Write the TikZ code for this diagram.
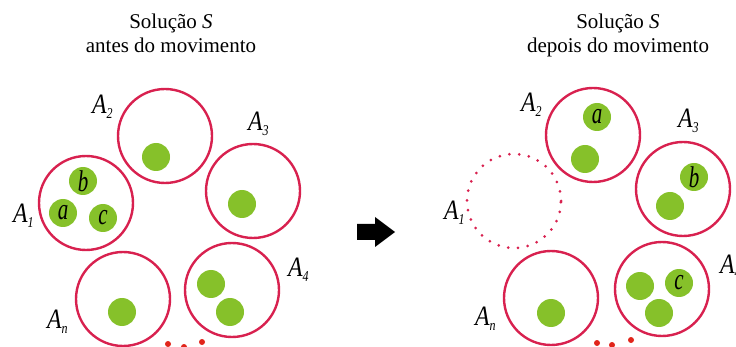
\documentclass[tikz,border=0pt]{standalone}
\usepackage{fontspec}
\setmainfont{Liberation Serif}
\usepackage{graphicx}
\definecolor{RingRed}{HTML}{D8214F}
\definecolor{ElemGreen}{HTML}{86C12A}
\definecolor{DotRed}{HTML}{E1251B}
\newcommand{\areg}[1]{\scalebox{0.85}[1]{\fontsize{28}{28}\selectfont\itshape A}\raisebox{-5pt}{\scalebox{0.8}[1]{\fontsize{15}{15}\selectfont\itshape #1}}}
\newcommand{\elemtxt}[1]{\scalebox{0.7}[1]{\fontsize{30}{30}\selectfont\itshape #1}}

\begin{document}
\begin{tikzpicture}[
  x=1pt, y=-1pt,
  region/.style={circle, draw=RingRed, line width=2.4pt, minimum size=94pt, inner sep=0pt},
  emptyregion/.style={circle, draw=RingRed, line width=3pt, dash pattern=on 0pt off 9.8pt, line cap=round, minimum size=94pt, inner sep=0pt},
  elem/.style={circle, fill=ElemGreen, minimum size=28pt, inner sep=0pt},
  tag/.style={anchor=base west, inner sep=0pt},
  title/.style={anchor=north, align=center, inner sep=0pt, font=\fontsize{21}{24}\selectfont},
  more/.style={circle, fill=DotRed, minimum size=6pt, inner sep=0pt}
  ]
  \useasboundingbox (0,0) rectangle (736,347);
  % Titles
  \node[title] (tl) at (171,13.5) {Solução \textit{S}\\antes do movimento};
  \node[title] (tr) at (618,13.5) {Solução \textit{S}\\depois do movimento};
  % Before: regions
  \node[region] (l1) at (86,203) {};
  \node[region] (l2) at (165,136) {};
  \node[region] (l3) at (253,191) {};
  \node[region] (l4) at (232,290) {};
  \node[region] (ln) at (123,299) {};
  % Before: elements
  \node[elem] (la) at (63,213) {\elemtxt{a}};
  \node[elem] (lb) at (83,181) {\elemtxt{b}};
  \node[elem] (lc) at (103,218) {\elemtxt{c}};
  \node[elem] (l2e) at (156,157) {};
  \node[elem] (l3e) at (242,204) {};
  \node[elem] (l4e) at (211,284) {};
  \node[elem] (l4f) at (230,312) {};
  \node[elem] (lne) at (122,312) {};
  % Before: labels
  \node[tag] (l1t) at (13,223) {\areg{1}};
  \node[tag] (l2t) at (92,114) {\areg{2}};
  \node[tag] (l3t) at (248,131) {\areg{3}};
  \node[tag] (l4t) at (288,277) {\areg{4}};
  \node[tag] (lnt) at (47,328) {\areg{n}};
  \node[more] (lm1) at (168,344) {};
  \node[more] (lm2) at (184,347) {};
  \node[more] (lm3) at (202,342) {};
  % Move
  \fill[black] (357,224) -- (375,224) -- (375,217) -- (395,232) -- (375,247) -- (375,240) -- (357,240) -- cycle;
  % After: regions
  \node[emptyregion] (r1) at (514,201) {};
  \node[region] (r2) at (593,135) {};
  \node[region] (r3) at (683,189) {};
  \node[region] (r4) at (662,289) {};
  \node[region] (rn) at (551,298) {};
  % After: elements
  \node[elem] (ra) at (597,117) {\elemtxt{a}};
  \node[elem] (r2e) at (585,159) {};
  \node[elem] (rb) at (694,177) {\elemtxt{b}};
  \node[elem] (r3e) at (670,206) {};
  \node[elem] (r4e) at (640,286) {};
  \node[elem] (rc) at (679,283) {\elemtxt{c}};
  \node[elem] (r4f) at (659,313) {};
  \node[elem] (rne) at (551,313) {};
  % After: labels
  \node[tag] (r1t) at (444,220) {\areg{1}};
  \node[tag] (r2t) at (521,112) {\areg{2}};
  \node[tag] (r3t) at (678,128) {\areg{3}};
  \node[tag] (r4t) at (720,273) {\areg{4}};
  \node[tag] (rnt) at (475,325) {\areg{n}};
  \node[more] (rm1) at (597,343) {};
  \node[more] (rm2) at (612,345) {};
  \node[more] (rm3) at (631,340) {};
\end{tikzpicture}
\end{document}
